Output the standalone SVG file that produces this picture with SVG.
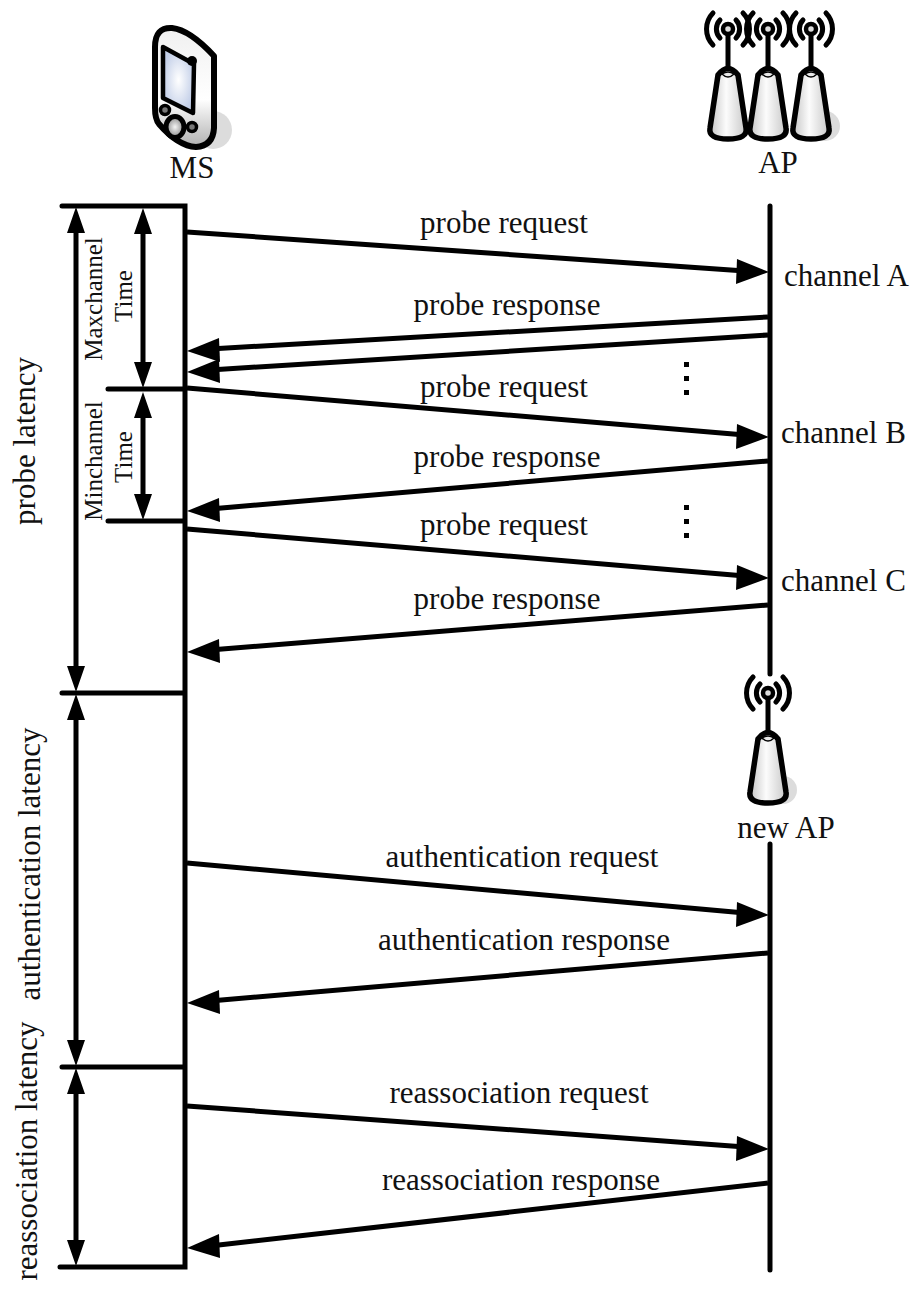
<svg xmlns="http://www.w3.org/2000/svg" width="919" height="1289" viewBox="0 0 919 1289">
<style>
text{font-family:"Liberation Serif","Times New Roman",serif;fill:#111;font-size:31px}
.m{text-anchor:middle}
.s{font-size:25px}
.l{stroke:#000;stroke-width:5;fill:none;stroke-linecap:round}
.a{stroke:#000;stroke-width:5;fill:none}
.h{fill:#000}
.t{fill:url(#cone);stroke:#000;stroke-width:5.500;stroke-linejoin:round}
.w{fill:none;stroke:#000;stroke-width:5;stroke-linecap:round}
.sh{fill:#dcdcdc}
</style>
<defs>
<linearGradient id="cone" x1="0" x2="1" y1="0" y2="0"><stop offset="0" stop-color="#c4c4c4"/><stop offset=".45" stop-color="#fcfcfc"/><stop offset="1" stop-color="#c8c8c8"/></linearGradient>
<radialGradient id="scr"><stop offset="0" stop-color="#fff"/><stop offset="1" stop-color="#c3cfe8"/></radialGradient>
<linearGradient id="body" x1="0" x2="0" y1="0" y2="1"><stop offset="0" stop-color="#f0f0f0"/><stop offset=".6" stop-color="#fff"/><stop offset="1" stop-color="#b0b0b0"/></linearGradient>
<radialGradient id="btn"><stop offset="0" stop-color="#f4f4f4"/><stop offset="1" stop-color="#8a8a8a"/></radialGradient>
<g id="ant">
<path class="w" d="M-8 -9A13 13 0 0 0 -8 9M8 -9A13 13 0 0 1 8 9M-15 -16A23 23 0 0 0 -15 16M15 -16A23 23 0 0 1 15 16"/>
<circle r="5" fill="#ddd" stroke="#000" stroke-width="4.500"/>
<path d="M0 5V42" stroke="#000" stroke-width="5"/>
<path class="t" d="M-10 46Q0 33 10 46L18 99Q20 110 0 110Q-20 110 -18 99Z"/>
<path d="M-6 45Q0 51 6 45Q0 41 -6 45Z" fill="#e8e8e8" stroke="#000" stroke-width="1.500"/>
</g>
</defs>
<g id="ms">
<ellipse class="sh" cx="213" cy="130" rx="19" ry="19"/>
<path d="M155 47Q155 27 172 28Q190 30 214 56V128Q213 146 196 147Q178 146 159 124Q155 119 155 108Z" fill="url(#body)" stroke="#000" stroke-width="6" stroke-linejoin="round"/>
<path d="M163 47L194 64L193 113L163 98Z" fill="url(#scr)" stroke="#000" stroke-width="4.500" stroke-linejoin="round"/>
<circle cx="192" cy="61" r="5" fill="#000"/>
<circle cx="165" cy="110" r="4.500" fill="#777" stroke="#000" stroke-width="3.500"/>
<circle cx="192" cy="127" r="4.500" fill="#777" stroke="#000" stroke-width="3.500"/>
<ellipse cx="175" cy="127" rx="9" ry="10.500" fill="url(#btn)" stroke="#000" stroke-width="5"/>
<text class="m" x="192" y="178">MS</text>
</g>
<g id="ap">
<circle class="sh" cx="825" cy="126" r="15"/>
<use href="#ant" x="728" y="29"/>
<use href="#ant" x="768" y="29"/>
<use href="#ant" x="811" y="29"/>
<text class="m" x="778" y="173">AP</text>
</g>
<g id="newap">
<circle class="sh" cx="783" cy="790" r="14"/>
<use href="#ant" x="768" y="693"/>
<text class="m" x="786" y="838">new AP</text>
</g>
<g id="connectors">
<path class="l" d="M62 206H185V1267H60M62 693H185M62 1067H185M108 389H185M108 521H185"/>
<path class="l" d="M770 206V674M770 844V1270"/>
<path class="a" d="M76 228V672M76 715V1045M76 1089V1245M143 228V368M143 412V500"/>
<path class="h" d="M76 207l-9 26h18zM76 692l-9 -26h18zM76 694l-9 26h18zM76 1066l-9 -26h18zM76 1068l-9 26h18zM76 1266l-9 -26h18zM143 208l-9 26h18zM143 388l-9 -26h18zM143 392l-9 26h18zM143 520l-9 -26h18z"/>
<path class="a" d="M187 232L745 271"/><path class="h" d="M769 272L737 259L736 284Z"/>
<path class="a" d="M768 317L210 349"/><path class="h" d="M187 351L219 338L220 362Z"/>
<path class="a" d="M768 335L210 370"/><path class="h" d="M187 372L219 359L220 383Z"/>
<path class="a" d="M187 388L745 435"/><path class="h" d="M769 437L737 424L736 449Z"/>
<path class="a" d="M768 461L210 509"/><path class="h" d="M187 511L219 498L220 522Z"/>
<path class="a" d="M187 529L745 576"/><path class="h" d="M769 578L737 565L736 590Z"/>
<path class="a" d="M768 605L210 650"/><path class="h" d="M187 652L219 639L220 663Z"/>
<path class="a" d="M187 863L745 913"/><path class="h" d="M769 915L737 902L736 927Z"/>
<path class="a" d="M768 953L210 1001"/><path class="h" d="M187 1003L219 990L220 1014Z"/>
<path class="a" d="M187 1106L745 1147"/><path class="h" d="M769 1149L737 1136L736 1161Z"/>
<path class="a" d="M768 1183L210 1246"/><path class="h" d="M187 1248L219 1234L220 1258Z"/>
</g>
<g id="labels">
<text class="m" x="504" y="233">probe request</text>
<text class="m" x="507" y="315">probe response</text>
<text class="m" x="504" y="397">probe request</text>
<text class="m" x="507" y="467">probe response</text>
<text class="m" x="504" y="535">probe request</text>
<text class="m" x="507" y="609">probe response</text>
<text class="m" x="522" y="867">authentication request</text>
<text class="m" x="524" y="950">authentication response</text>
<text class="m" x="519" y="1103">reassociation request</text>
<text class="m" x="521" y="1190">reassociation response</text>
<text x="784" y="286">channel A</text>
<text x="781" y="443">channel B</text>
<text x="781" y="591">channel C</text>
<text class="m" transform="translate(35 441) rotate(-90)">probe latency</text>
<text class="m" transform="translate(40 864) rotate(-90)">authentication latency</text>
<text class="m" transform="translate(37 1151) rotate(-90)">reassociation latency</text>
<text class="m s" transform="translate(102 299) rotate(-90)">Maxchannel</text>
<text class="m s" transform="translate(132 296) rotate(-90)">Time</text>
<text class="m s" transform="translate(102 461) rotate(-90)">Minchannel</text>
<text class="m s" transform="translate(132 457) rotate(-90)">Time</text>
</g>
<g id="dots" fill="#000">
<rect x="684" y="362" width="5" height="5"/><rect x="684" y="376" width="5" height="5"/><rect x="684" y="390" width="5" height="5"/>
<rect x="684" y="505" width="5" height="5"/><rect x="684" y="519" width="5" height="5"/><rect x="684" y="533" width="5" height="5"/>
</g>
</svg>
